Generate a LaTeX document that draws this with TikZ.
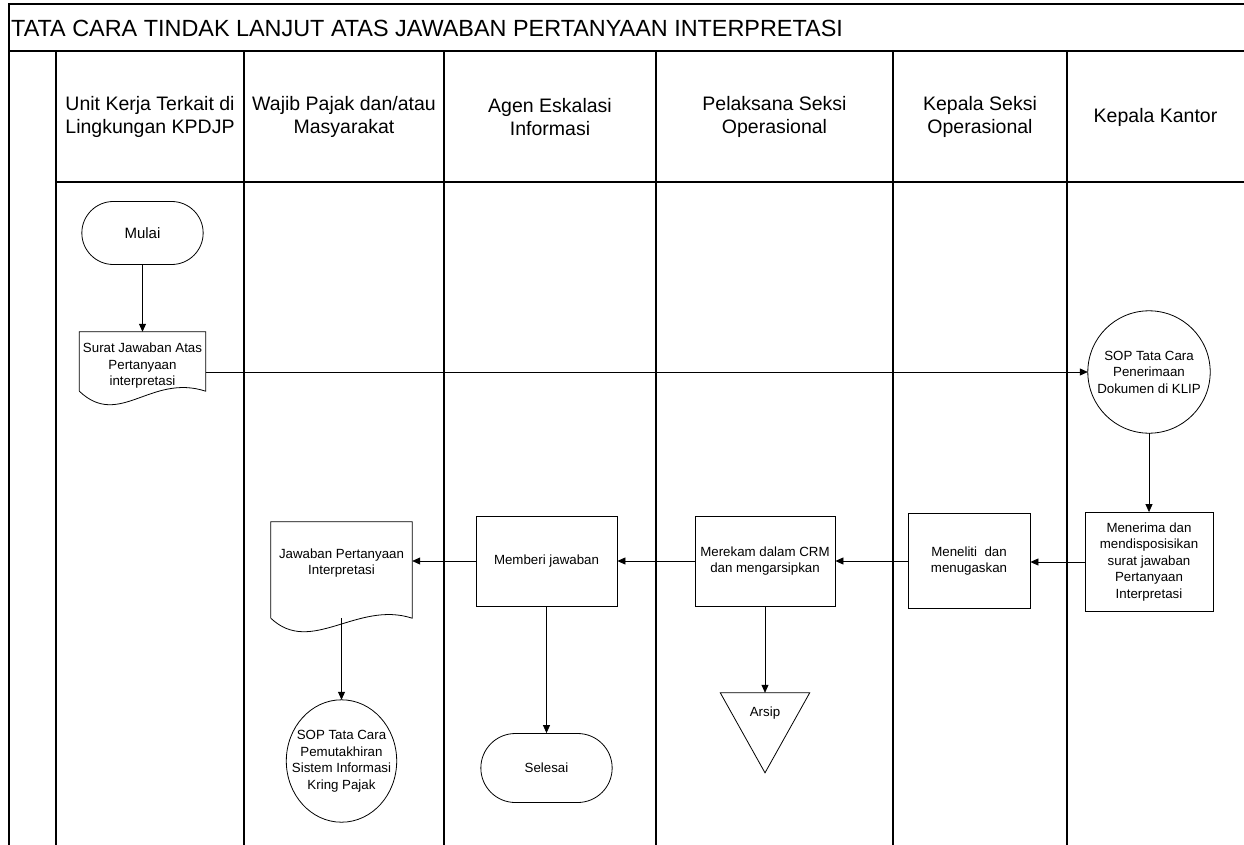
\documentclass[tikz,border=0pt]{standalone}
\usepackage{fontspec}
\setmainfont{Liberation Sans}
\usepackage{tikz}
\usetikzlibrary{calc,arrows.meta,shapes.misc}

% dokumen: sisi bawah bergelombang
\newcommand{\docpath}[2]{%
  \draw[line width=0.8pt] ($(#1.south west)+(0,#2)$) -- (#1.north west) -- (#1.north east) -- ($(#1.south east)+(0,#2)$)
     .. controls +(-55,-18) and +(40,38) .. ($(#1.south west)+(0,#2)$);}
% lingkaran SOP
\newcommand{\sopbulat}[1]{%
  \draw[line width=0.8pt] let \p1=($(#1.north east)-(#1.south west)$) in
     (#1.center) ellipse [x radius=0.5*\x1, y radius=0.5*\y1];}

\begin{document}
\begin{tikzpicture}[x=1pt,y=-1pt,>={Triangle[length=8pt,width=7pt]},
    lane/.style={line width=1.2pt},
    judul/.style={font=\fontsize{23.4}{27}\selectfont,inner sep=0pt,anchor=west},
    kepala/.style={font=\fontsize{19.5}{23}\selectfont,align=center,inner sep=0pt},
    proses/.style={draw,line width=0.8pt,align=center,inner sep=2pt,font=\fontsize{13.3}{16.5}\selectfont},
    terminal/.style={draw,line width=0.8pt,rounded rectangle,align=center,font=\fontsize{13.3}{16.5}\selectfont},
    sop/.style={align=center,inner sep=0pt,font=\fontsize{13.3}{16.5}\selectfont},
    dokumen/.style={align=center,inner sep=2pt,font=\fontsize{13.3}{16.5}\selectfont},
    alur/.style={->,line width=0.8pt}]

    \useasboundingbox (0,0) rectangle (1244,845);

%   lajur
    \draw[lane] (1244,4) -- (9,4) -- (9,845);
    \draw[lane] (9,51) -- (1244,51);
    \draw[lane] (56,182) -- (1244,182);
    \foreach \x in {56,244,444,656,893,1067}
        \draw[lane] (\x,51) -- (\x,845);

    \node[judul] (judul) at (11,28) {TATA CARA TINDAK LANJUT ATAS JAWABAN PERTANYAAN INTERPRETASI};

    \node[kepala] (unitkerja)  at (150,117)   {Unit Kerja Terkait di\\Lingkungan KPDJP};
    \node[kepala] (wajibpajak) at (344,117)   {Wajib Pajak dan/atau\\Masyarakat};
    \node[kepala] (agen)       at (550,117)   {Agen Eskalasi\\Informasi};
    \node[kepala] (pelaksana)  at (774.5,117) {Pelaksana Seksi\\Operasional};
    \node[kepala] (kasi)       at (980,117)   {Kepala Seksi\\Operasional};
    \node[kepala] (kakan)      at (1155.5,117) {Kepala Kantor};

%   alur proses
    \node[terminal,minimum width=128pt,minimum height=63pt,font=\fontsize{15}{18}\selectfont] (mulai) at (142.5,233) {Mulai};
    \node[dokumen,minimum width=126pt,minimum height=68pt] (surat) at (142.5,366)
        {Surat Jawaban Atas\\Pertanyaan\\interpretasi};
    \docpath{surat}{-9}
    \node[sop,minimum width=122pt,minimum height=122pt] (sopklip) at (1149,372)
        {SOP Tata Cara\\Penerimaan\\Dokumen di KLIP};
    \sopbulat{sopklip}
    \node[proses,minimum width=128pt,minimum height=99pt] (menerima) at (1149,562)
        {Menerima dan\\mendisposisikan\\surat jawaban\\Pertanyaan\\Interpretasi};
    \node[proses,minimum width=122pt,minimum height=95pt] (meneliti) at (969,561)
        {Meneliti~ dan\\menugaskan};
    \node[proses,minimum width=140pt,minimum height=90pt] (merekam) at (765,561)
        {Merekam dalam CRM\\dan mengarsipkan};
    \node[proses,minimum width=141pt,minimum height=90pt] (memberi) at (546.5,561)
        {Memberi jawaban};
    \node[dokumen,minimum width=141pt,minimum height=82pt] (jawaban) at (341.5,563)
        {Jawaban Pertanyaan\\Interpretasi};
    \docpath{jawaban}{14}
    \node[sop,minimum width=110pt,minimum height=122pt] (soppemutakhiran) at (341.5,761)
        {SOP Tata Cara\\Pemutakhiran\\Sistem Informasi\\Kring Pajak};
    \sopbulat{soppemutakhiran}
    \node[terminal,minimum width=138pt,minimum height=69pt] (selesai) at (546.5,768) {Selesai};
    \node[dokumen,minimum width=89pt,minimum height=40pt] (arsip) at (765,713) {Arsip};
    \draw[line width=0.8pt] (arsip.north west) -- (arsip.north east) -- ($(arsip.north)+(0,80)$) -- cycle;

    \draw[alur] (mulai) -- (surat);
    \draw[alur] (surat.east |- sopklip.west) -- (sopklip.west);
    \draw[alur] (sopklip.south) -- (menerima.north);
    \draw[alur] (menerima.west) -- (menerima.west -| meneliti.east);
    \draw[alur] (meneliti.west) -- (meneliti.west -| merekam.east);
    \draw[alur] (merekam.west) -- (merekam.west -| memberi.east);
    \draw[alur] (memberi.west) -- (memberi.west -| jawaban.east);
    \draw[alur] ($(jawaban.south)+(0,14)$) -- (soppemutakhiran.north);
    \draw[alur] (memberi.south) -- (selesai.north);
    \draw[alur] (merekam.south) -- (arsip.north);

\end{tikzpicture}
\end{document}
